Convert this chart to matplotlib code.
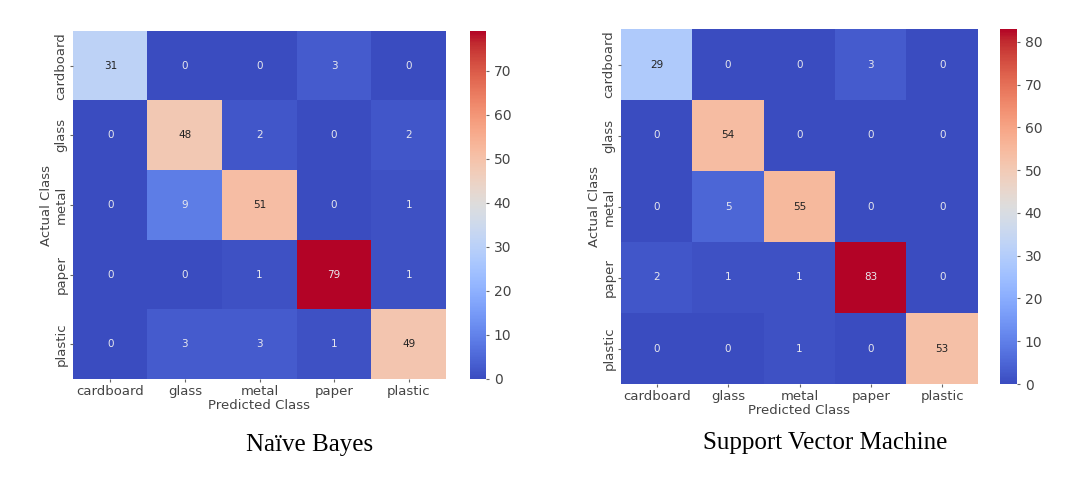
import numpy as np
import matplotlib.pyplot as plt
from matplotlib.colors import Normalize

classes = ["cardboard", "glass", "metal", "paper", "plastic"]

nb_cm = [[31, 0, 0, 3, 0],
         [0, 48, 2, 0, 2],
         [0, 9, 51, 0, 1],
         [0, 0, 1, 79, 1],
         [0, 3, 3, 1, 49]]

svm_cm = [[29, 0, 0, 3, 0],
          [0, 54, 0, 0, 0],
          [0, 5, 55, 0, 0],
          [2, 1, 1, 83, 0],
          [0, 0, 1, 0, 53]]

titles = ["Naïve Bayes", "Support Vector Machine"]
W, H = 1090, 478

fig = plt.figure(figsize=(W / 100, H / 100), dpi=100)

# pixel boxes: heatmap, colorbar, caption position
layout = [
    dict(ax=(73, 31, 446, 379), cb=(470, 31, 486, 379), cap=(310, 445)),
    dict(ax=(621, 29, 978, 384), cb=(1000, 29, 1017, 384), cap=(825, 443)),
]

def box(x0, y0, x1, y1):
    return [x0 / W, 1 - y1 / H, (x1 - x0) / W, (y1 - y0) / H]

txt_col = "#444444"

for cm, title, lay in zip([nb_cm, svm_cm], titles, layout):
    cm = np.array(cm)
    ax = fig.add_axes(box(*lay["ax"]))
    cax = fig.add_axes(box(*lay["cb"]))
    norm = Normalize(vmin=0, vmax=cm.max())
    im = ax.imshow(cm, cmap="coolwarm", norm=norm, aspect="auto")
    for i in range(cm.shape[0]):
        for j in range(cm.shape[1]):
            v = cm[i, j]
            col = "#222222" if 0.3 < norm(v) < 0.85 else "#e8e8ee"
            ax.text(j, i, str(v), ha="center", va="center", fontsize=7.5, color=col)
    ax.set_xticks(range(len(classes)))
    ax.set_yticks(range(len(classes)))
    ax.set_xticklabels(classes, fontsize=9.5, color=txt_col)
    ax.set_yticklabels(classes, fontsize=9.5, color=txt_col, rotation=90, va="center")
    ax.tick_params(length=2, color="#666666", pad=2)
    ax.set_xlabel("Predicted Class", fontsize=9.5, color=txt_col, labelpad=1)
    ax.set_ylabel("Actual Class", fontsize=9.5, color=txt_col, labelpad=1)
    for s in ax.spines.values():
        s.set_visible(False)
    cb = fig.colorbar(im, cax=cax)
    cb.outline.set_visible(False)
    cb.ax.tick_params(labelsize=10, labelcolor=txt_col, length=2, color="#666666")
    fig.text(lay["cap"][0] / W, 1 - lay["cap"][1] / H, title, ha="center", va="center",
             fontsize=18, family="Liberation Serif", color="black")

fig.savefig("out.png", dpi=100)
